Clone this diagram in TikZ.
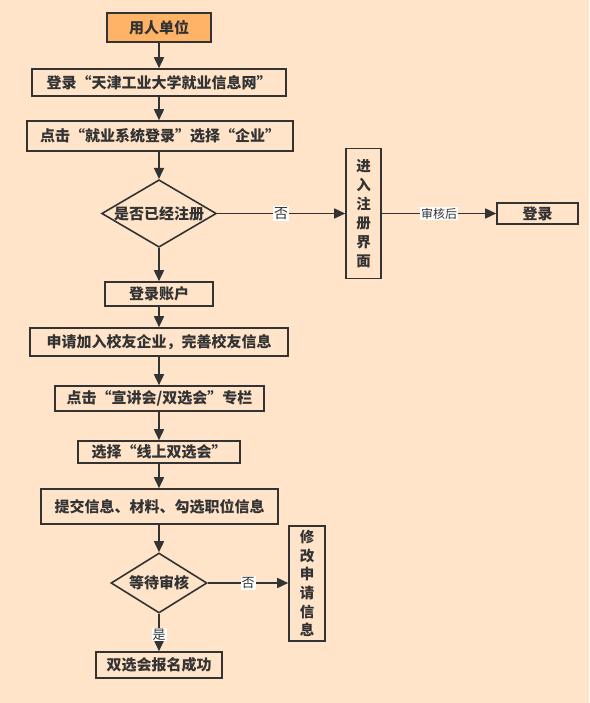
\documentclass[tikz,border=0pt]{standalone}
\usepackage{fontspec}
\newfontfamily\cjk{Noto Sans CJK SC}
\newfontfamily\cjkq{Noto Sans CJK SC}[RawFeature=+fwid]
\newcommand{\zql}{{\cjkq\bfseries “}}
\newcommand{\zqr}{{\cjkq\bfseries ”}}
\usetikzlibrary{shapes.geometric,arrows.meta}
\definecolor{bg}{HTML}{FFE4CA}
\definecolor{ln}{HTML}{333333}
\definecolor{org}{HTML}{FFB366}
\begin{document}
\begin{tikzpicture}[x=1pt,y=-1pt,
  font=\cjk\bfseries\fontsize{15}{17}\selectfont,
  box/.style={draw=ln, line width=1.6pt, fill=bg, text=ln, inner sep=0pt},
  dia/.style={box, diamond, aspect=1.7},
  arr/.style={draw=ln, line width=1.6pt, -{Triangle[length=11pt,width=10pt]}},
  lab/.style={fill=white, inner sep=1pt, text=ln, font=\cjk\fontsize{13}{15}\selectfont}]
\useasboundingbox (0,0) rectangle (589,703);
\fill[bg] (0,0) rectangle (589,703);
\node[box, fill=org, minimum width=104pt, minimum height=29pt] (n1) at (159,27.5) {用人单位};
\node[box, minimum width=254pt, minimum height=27pt] (n2) at (159,82.5) {登录\zql 天津工业大学就业信息网\zqr};
\node[box, minimum width=266pt, minimum height=30pt] (n3) at (160,136) {点击\zql 就业系统登录\zqr 选择\zql 企业\zqr};
\node[dia, minimum width=114pt, minimum height=67pt] (d1) at (159,213.5) {是否已经注册};
\node[box, minimum width=35pt, minimum height=130pt, align=center,
  font=\cjk\bfseries\fontsize{14.5}{19}\selectfont] (reg) at (363.5,213.5) {进\\入\\注\\册\\界\\面};
\node[box, minimum width=81pt, minimum height=21pt] (login) at (537.5,213.5) {登录};
\node[box, minimum width=108pt, minimum height=24pt] (n4) at (159,294) {登录账户};
\node[box, minimum width=258pt, minimum height=28pt] (n5) at (159,342) {申请加入校友企业，完善校友信息};
\node[box, minimum width=209pt, minimum height=25pt] (n6) at (159.5,398.5) {点击\zql 宣讲会/双选会\zqr 专栏};
\node[box, minimum width=162pt, minimum height=22pt] (n7) at (159,452) {选择\zql 线上双选会\zqr};
\node[box, minimum width=237pt, minimum height=35pt] (n8) at (159.5,506.5) {提交信息、材料、勾选职位信息};
\node[dia, minimum width=96pt, minimum height=60pt] (d2) at (159,583) {等待审核};
\node[box, minimum width=36pt, minimum height=115pt, align=center,
  font=\cjk\bfseries\fontsize{14.5}{18.6}\selectfont] (mod) at (307,583.5) {修\\改\\申\\请\\信\\息};
\node[box, minimum width=126pt, minimum height=26pt] (n9) at (159,665) {双选会报名成功};
\draw[arr] (n1.south) -- (n1.south |- n2.north);
\draw[arr] (n2.south) -- (n2.south |- n3.north);
\draw[arr] (n3.south -| d1.north) -- (d1.north);
\draw[arr] (d1.east) -- node[lab, font=\cjk\fontsize{14}{16}\selectfont]{否} (reg.west |- d1.east);
\draw[arr] (reg.east |- login.west) -- node[lab, font=\cjk\fontsize{12}{14}\selectfont]{审核后} (login.west);
\draw[arr] (d1.south) -- (d1.south |- n4.north);
\draw[arr] (n4.south) -- (n4.south |- n5.north);
\draw[arr] (n5.south) -- (n5.south |- n6.north);
\draw[arr] (n6.south -| n7.north) -- (n7.north);
\draw[arr] (n7.south) -- (n7.south |- n8.north);
\draw[arr] (n8.south -| d2.north) -- (d2.north);
\draw[arr] (d2.east) -- node[lab]{否} (mod.west |- d2.east);
\draw[arr] (d2.south) -- node[lab, pos=0.55]{是} (d2.south |- n9.north);
\end{tikzpicture}
\end{document}
